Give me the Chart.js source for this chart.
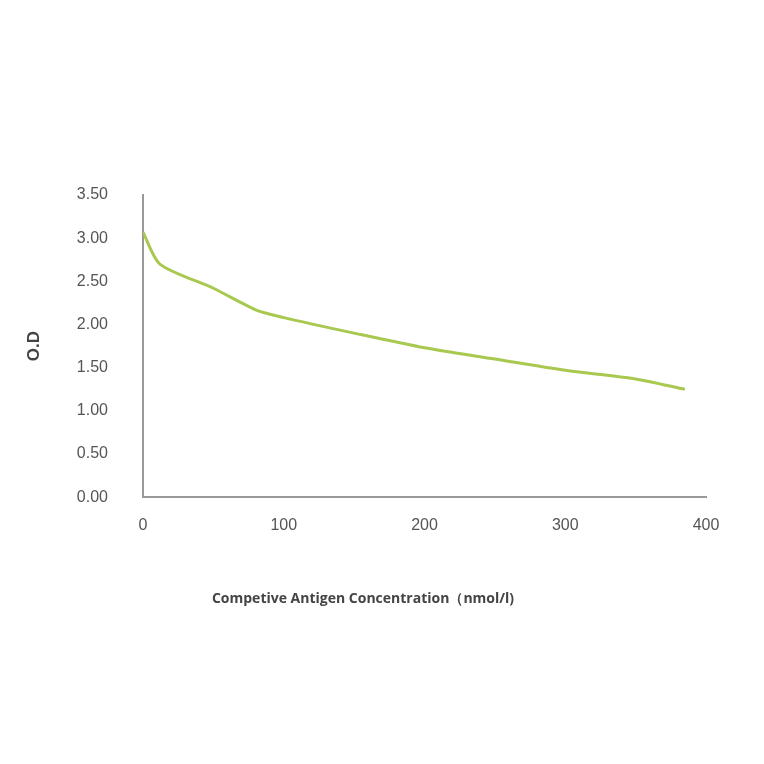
<!DOCTYPE html>
<html>
<head>
<meta charset="utf-8">
<script src="https://cdn.jsdelivr.net/npm/chart.js@4"></script>
<style>
  html, body { margin: 0; padding: 0; background: #fff; }
  #wrap { width: 764px; height: 764px; }
</style>
</head>
<body>
<div id="wrap"><canvas id="odChart"></canvas></div>
<script>
const concentrations = [0, 12, 50, 80, 100, 150, 200, 250, 300, 350, 385];
const odValues = [3.07, 2.70, 2.42, 2.17, 2.08, 1.90, 1.73, 1.60, 1.47, 1.37, 1.25];

const points = concentrations.map((x, i) => ({ x: x, y: odValues[i] }));

new Chart(document.getElementById('odChart').getContext('2d'), {
    type: 'line',
    data: {
        datasets: [{
            data: points,
            borderColor: '#a9c850',
            borderWidth: 3,
            pointRadius: 0,
            tension: 0.25,
            fill: false
        }]
    },
    options: {
        responsive: true,
        maintainAspectRatio: false,
        animation: false,
        layout: { padding: { left: 20, right: 58, top: 195, bottom: 157 } },
        plugins: {
            legend: { display: false },
            tooltip: { enabled: false },
            title: {
                display: true,
                position: 'bottom',
                text: 'Competive Antigen Concentration（nmol/l)',
                color: '#444',
                padding: { top: 0, bottom: 0 },
                font: { family: 'Open Sans', size: 14, weight: 'bold' }
            }
        },
        scales: {
            x: {
                type: 'linear',
                min: 0,
                max: 400,
                ticks: { stepSize: 100, color: '#555', font: { family: 'Liberation Sans', size: 16 }, padding: 19 },
                grid: { display: false, drawTicks: false },
                border: { color: '#999', width: 2 },
                afterFit: s => { s.height = 93; }
            },
            y: {
                min: 0,
                max: 3.5,
                ticks: { stepSize: 0.5, color: '#555', font: { family: 'Liberation Sans', size: 16 }, padding: 35,
                         callback: v => v.toFixed(2) },
                grid: { display: false, drawTicks: false },
                border: { color: '#999', width: 2 },
                title: { display: true, text: 'O.D', color: '#444',
                         font: { family: 'Liberation Sans', size: 17, weight: 'bold' } },
                afterFit: s => { s.width = 123; }
            }
        }
    }
});
</script>
</body>
</html>
